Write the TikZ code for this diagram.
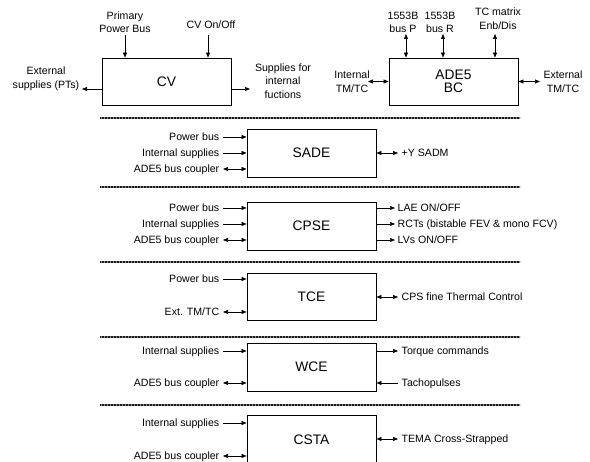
\documentclass[tikz,border=0pt]{standalone}
\usepackage{fontspec}
\setmainfont{Liberation Sans}
\usetikzlibrary{arrows.meta}
\begin{document}
\begin{tikzpicture}[x=1pt,y=-1pt,
  blk/.style={draw, line width=0.9pt, font=\fontsize{13.8}{13}\selectfont, align=center,
              inner sep=0pt, minimum width=129pt},
  lbl/.style={font=\fontsize{10.6}{13}\selectfont, inner sep=1.5pt, text height=7.6pt, text depth=0pt},
  ml/.style={font=\fontsize{10.6}{13.5}\selectfont, align=center, inner sep=1pt},
  sepbase/.style={line width=1.5pt, black!45},
  sepline/.style={line width=1.5pt, black!90, dash pattern=on 0.9pt off 0.6pt},
  arr/.style={-{Triangle[length=5pt,width=4pt]}, line width=0.6pt},
  darr/.style={{Triangle[length=5pt,width=4pt]}-{Triangle[length=5pt,width=4pt]}, line width=0.6pt}]
\useasboundingbox (0,0) rectangle (590,462);
\clip (0,0) rectangle (590,462);

% ---------- top row ----------
\node[blk, minimum height=47pt] (cv) at (166.5,81.5) {CV};
\node[blk, minimum height=47pt] (ade) at (453.5,81.5) {ADE5\\BC};

\node[ml] (ppb) at (125,22) {Primary\\Power Bus};
\coordinate (ppbs) at (125,35);
\draw[arr] (ppbs) -- (ppbs |- cv.north);
\node[ml] (cvo) at (211,25) {CV On/Off};
\coordinate (cvos) at (208,35);
\draw[arr] (cvos) -- (cvos |- cv.north);

\node[ml] (ext) at (46,79) {External\\supplies (PTs)};
\coordinate (exte) at (82,89);
\draw[arr] (exte -| cv.west) -- (exte);
\node[ml] (sup) at (283,81) {Supplies for\\internal\\fuctions};
\coordinate (supe) at (250,89);
\draw[arr] (supe -| cv.east) -- (supe);

\node[ml] (bp) at (403,22.5) {1553B\\bus P};
\coordinate (bps) at (406,34);
\draw[darr] (bps) -- (bps |- ade.north);
\node[ml] (br) at (440,22.5) {1553B\\bus R};
\coordinate (brs) at (443,34);
\draw[darr] (brs) -- (brs |- ade.north);
\node[ml] (tcm) at (498,18.5) {TC matrix\\Enb/Dis};
\coordinate (tcms) at (495,34);
\draw[darr] (tcms) -- (tcms |- ade.north);

\node[ml] (itm) at (352,81.5) {Internal\\TM/TC};
\coordinate (itme) at (368,81.5);
\draw[darr] (itme) -- (itme -| ade.west);
\node[ml] (etm) at (563,81.5) {External\\TM/TC};
\coordinate (etme) at (540,81.5);
\draw[darr] (etme -| ade.east) -- (etme);

% ---------- separators ----------
\foreach \yy in {118,187,262,337,405}{
  \draw[sepbase] (100,\yy) -- (520,\yy);
  \draw[sepline] (100,\yy) -- (520,\yy);
}

% ---------- SADE ----------
\node[blk, minimum height=48pt] (sade) at (311.5,153) {SADE};
\node[lbl, anchor=east] (sa1) at (221,137) {Power bus};
\node[lbl, anchor=east] (sa2) at (221,153) {Internal supplies};
\node[lbl, anchor=east] (sa3) at (221,169) {ADE5 bus coupler};
\draw[arr]  ([xshift=2pt]sa1.east) -- (sa1.east -| sade.west);
\draw[arr]  ([xshift=2pt]sa2.east) -- (sa2.east -| sade.west);
\draw[darr] ([xshift=2pt]sa3.east) -- (sa3.east -| sade.west);
\node[lbl, anchor=west] (sar1) at (400,153) {+Y SADM};
\draw[darr] (sar1.west -| sade.east) -- ([xshift=-2pt]sar1.west);

% ---------- CPSE ----------
\node[blk, minimum height=48pt] (cpse) at (311.5,226) {CPSE};
\node[lbl, anchor=east] (cp1) at (221,208) {Power bus};
\node[lbl, anchor=east] (cp2) at (221,224) {Internal supplies};
\node[lbl, anchor=east] (cp3) at (221,240) {ADE5 bus coupler};
\draw[arr]  ([xshift=2pt]cp1.east) -- (cp1.east -| cpse.west);
\draw[arr]  ([xshift=2pt]cp2.east) -- (cp2.east -| cpse.west);
\draw[darr] ([xshift=2pt]cp3.east) -- (cp3.east -| cpse.west);
\node[lbl, anchor=west] (cpr1) at (396,208) {LAE ON/OFF};
\node[lbl, anchor=west] (cpr2) at (396,224) {RCTs (bistable FEV \& mono FCV)};
\node[lbl, anchor=west] (cpr3) at (396,240) {LVs ON/OFF};
\draw[arr] (cpr1.west -| cpse.east) -- ([xshift=-1pt]cpr1.west);
\draw[arr] (cpr2.west -| cpse.east) -- ([xshift=-1pt]cpr2.west);
\draw[arr] (cpr3.west -| cpse.east) -- ([xshift=-1pt]cpr3.west);

% ---------- TCE ----------
\node[blk, minimum height=47pt] (tce) at (311.5,296.5) {TCE};
\node[lbl, anchor=east] (tc1) at (221,279) {Power bus};
\node[lbl, anchor=east] (tc2) at (221,312) {Ext. TM/TC};
\draw[arr]  ([xshift=2pt]tc1.east) -- (tc1.east -| tce.west);
\draw[darr] ([xshift=2pt]tc2.east) -- (tc2.east -| tce.west);
\node[lbl, anchor=west] (tcr1) at (400,297) {CPS fine Thermal Control};
\draw[darr] (tcr1.west -| tce.east) -- ([xshift=-2pt]tcr1.west);

% ---------- WCE ----------
\node[blk, minimum height=48pt] (wce) at (311.5,367) {WCE};
\node[lbl, anchor=east] (wc1) at (221,351) {Internal supplies};
\node[lbl, anchor=east] (wc2) at (221,383) {ADE5 bus coupler};
\draw[arr]  ([xshift=2pt]wc1.east) -- (wc1.east -| wce.west);
\draw[darr] ([xshift=2pt]wc2.east) -- (wc2.east -| wce.west);
\node[lbl, anchor=west] (wcr1) at (400,351) {Torque commands};
\node[lbl, anchor=west] (wcr2) at (400,383) {Tachopulses};
\draw[arr] (wcr1.west -| wce.east) -- ([xshift=-2pt]wcr1.west);
\draw[arr] ([xshift=-2pt]wcr2.west) -- (wcr2.west -| wce.east);

% ---------- CSTA ----------
\node[blk, minimum height=49pt] (csta) at (311.5,439.5) {CSTA};
\node[lbl, anchor=east] (cs1) at (221,423) {Internal supplies};
\node[lbl, anchor=east] (cs2) at (221,456) {ADE5 bus coupler};
\draw[arr]  ([xshift=2pt]cs1.east) -- (cs1.east -| csta.west);
\draw[darr] ([xshift=2pt]cs2.east) -- (cs2.east -| csta.west);
\node[lbl, anchor=west] (csr1) at (400,439) {TEMA Cross-Strapped};
\draw[darr] (csr1.west -| csta.east) -- ([xshift=-2pt]csr1.west);
\end{tikzpicture}
\end{document}
